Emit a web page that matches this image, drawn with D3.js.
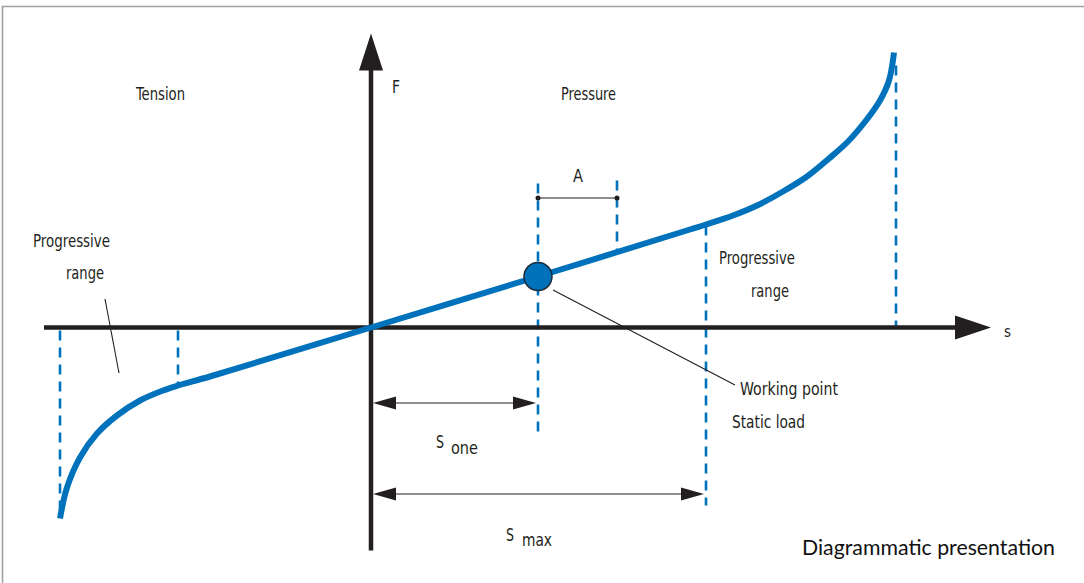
<!DOCTYPE html>
<html>
<head>
<meta charset="utf-8">
<script src="https://cdn.jsdelivr.net/npm/d3@7"></script>
<style>
  html, body { margin: 0; padding: 0; background: #fff; }
  svg { display: block; }
  .lbl { font-family: "DejaVu Sans Condensed", "Liberation Sans Narrow", sans-serif; fill: #231f20; }
</style>
</head>
<body>
<svg id="chart" width="1084" height="583"></svg>
<script>
// ---- data (s = deflection, F = force, arbitrary units) ----
const curveS = [-31.1, -30.4, -29.1, -27.4, -25.4, -23.1, -20.8, -19.3, -16.1, 0, 16.7, 31.9, 33.5, 36.2, 38.6, 41.2, 43.6, 45.8, 47.7, 49.5, 50.9, 51.8, 52.3];
const curveF = [-19.1, -16.0, -13.0, -10.6, -8.8, -7.3, -6.3, -5.8, -4.9, 0, 5.1, 9.8, 10.3, 11.2, 12.2, 13.6, 15.1, 16.9, 18.6, 20.7, 22.7, 24.7, 27.5];
const sLeftEnd = -31.1, sLeftProg = -19.3, sOne = 16.7, sA = 24.6, sMax = 33.5, sRightEnd = 52.5;
const workingPoint = { s: 16.7, F: 5.1 };
const axisS = [-32.7, 62.0];
const axisF = [-22.3, 29.4];

const svg = d3.select("#chart");
const x = d3.scaleLinear().domain([0, 10]).range([371, 471]);
const y = d3.scaleLinear().domain([0, 10]).range([327.5, 227.5]);
const blue = "#0072bc", dark = "#231f20";

// frame
svg.append("path").attr("d", "M2.5,583 V6.5 H1084").attr("fill", "none").attr("stroke", "#a0a0a0").attr("stroke-width", 1.6);

// dashed guide lines
const dash = (s, f0, f1) => svg.append("line")
  .attr("x1", x(s)).attr("x2", x(s)).attr("y1", y(f0)).attr("y2", y(f1))
  .attr("stroke", blue).attr("stroke-width", 2.6).attr("stroke-dasharray", "10,7");
dash(sLeftEnd, -0.3, -18.8);
dash(sLeftProg, -0.3, -5.6);
dash(sOne, 14.4, -11.0);
dash(sA, 14.7, 7.5);
dash(sMax, 10.2, -17.8);
dash(sRightEnd, 26.2, 0);

// axes
svg.append("line").attr("x1", x(axisS[0])).attr("x2", x(axisS[1]) - 30).attr("y1", y(0)).attr("y2", y(0))
  .attr("stroke", dark).attr("stroke-width", 4.5);
svg.append("line").attr("x1", x(0)).attr("x2", x(0)).attr("y1", y(axisF[0])).attr("y2", y(axisF[1]) + 30)
  .attr("stroke", dark).attr("stroke-width", 4.5);
// arrow heads
const xt = x(axisS[1]), yt = y(0);
svg.append("path").attr("d", `M${xt},${yt} L${xt-36},${yt-12} L${xt-36},${yt+12} Z`).attr("fill", dark);
const ax = x(0), ay = y(axisF[1]);
svg.append("path").attr("d", `M${ax},${ay} L${ax-12},${ay+37} L${ax+12},${ay+37} Z`).attr("fill", dark);

// leader lines
svg.append("line").attr("x1", 105).attr("y1", 299).attr("x2", 119).attr("y2", 373).attr("stroke", dark).attr("stroke-width", 1.1);
svg.append("line").attr("x1", 553).attr("y1", 290).attr("x2", 735).attr("y2", 385).attr("stroke", dark).attr("stroke-width", 1.1);

// curve
const pts = curveS.map((s, i) => [s, curveF[i]]);
svg.append("path").datum(pts)
  .attr("d", d3.line().x(d => x(d[0])).y(d => y(d[1])).curve(d3.curveCatmullRom.alpha(0.5)))
  .attr("fill", "none").attr("stroke", blue).attr("stroke-width", 6);

// working point
svg.append("circle").attr("cx", x(workingPoint.s)).attr("cy", y(workingPoint.F)).attr("r", 14)
  .attr("fill", blue).attr("stroke", "#1b2b3b").attr("stroke-width", 1.5);

// A dimension
const aY = 198;
svg.append("line").attr("x1", x(sOne)).attr("x2", x(sA)).attr("y1", aY).attr("y2", aY).attr("stroke", dark).attr("stroke-width", 1.2);
[sOne, sA].forEach(s => svg.append("circle").attr("cx", x(s)).attr("cy", aY).attr("r", 2.5).attr("fill", dark));

// dimension arrows S one and S max
function dimArrow(s1, yy) {
  const x0 = x(0) + 2, x1 = x(s1) - 2;
  svg.append("line").attr("x1", x0 + 20).attr("x2", x1 - 20).attr("y1", yy).attr("y2", yy).attr("stroke", dark).attr("stroke-width", 1.1);
  svg.append("path").attr("d", `M${x0},${yy} L${x0+23},${yy-6.5} L${x0+23},${yy+6.5} Z`).attr("fill", dark);
  svg.append("path").attr("d", `M${x1},${yy} L${x1-23},${yy-6.5} L${x1-23},${yy+6.5} Z`).attr("fill", dark);
}
dimArrow(sOne, 403);
dimArrow(sMax, 494);

// labels
const txt = (t, xx, yy, size, anchor, len) => {
  const el = svg.append("text").attr("class", "lbl")
    .attr("x", xx).attr("y", yy).attr("font-size", size).attr("text-anchor", anchor || "start").text(t);
  if (len) el.attr("textLength", len).attr("lengthAdjust", "spacingAndGlyphs");
  return el;
};
txt("F", 392, 93, 17, "start", 8);
txt("s", 1004, 337, 16, "start", 7);
txt("Tension", 136, 100, 17, "start", 49);
txt("Pressure", 561, 100, 17, "start", 55);
txt("A", 573, 182, 17, "start", 10);
txt("Progressive", 33, 247, 17, "start", 77);
txt("range", 66, 279, 17, "start", 38);
txt("Progressive", 719, 264, 17, "start", 76);
txt("range", 751, 297, 17, "start", 38);
txt("Working point", 740, 395, 17, "start", 98);
txt("Static load", 732, 428, 17, "start", 73);
txt("S", 436, 448, 17, "start", 8);
txt("one", 451, 454, 17, "start", 27);
txt("S", 506, 541, 17, "start", 8);
txt("max", 522, 546, 17, "start", 30);
svg.append("text").attr("x", 802).attr("y", 555).attr("font-size", 21)
  .attr("font-family", "Lato, 'Open Sans', sans-serif").attr("fill", "#111")
  .attr("textLength", 253).attr("lengthAdjust", "spacingAndGlyphs").text("Diagrammatic presentation");
</script>
</body>
</html>
